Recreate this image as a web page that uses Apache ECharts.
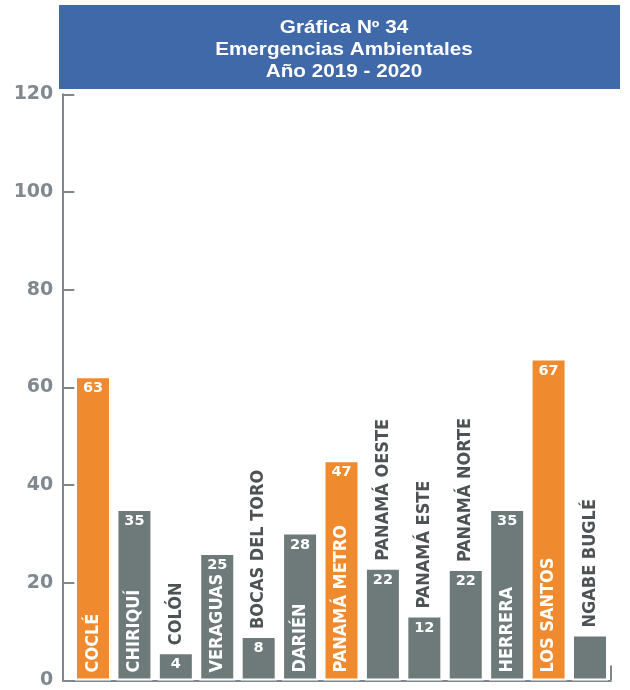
<!DOCTYPE html>
<html>
<head>
<meta charset="utf-8">
<script src="https://cdn.jsdelivr.net/npm/echarts@6/dist/echarts.min.js"></script>
<style>
  html, body { margin: 0; padding: 0; background: #ffffff; }
  #chart { width: 630px; height: 690px; }
</style>
</head>
<body>
<div id="chart"></div>
<script>
// ---- data ----
var categories = ['COCLÉ', 'CHIRIQUÍ', 'COLÓN', 'VERAGUAS', 'BOCAS DEL TORO', 'DARIÉN',
  'PANAMÁ METRO', 'PANAMÁ OESTE', 'PANAMÁ ESTE', 'PANAMÁ NORTE', 'HERRERA', 'LOS SANTOS', 'NGABE BUGLÉ'];
// bar heights as drawn in the picture
var barHeights = [62.3, 35.1, 5.8, 26.1, 9.1, 30.3, 45.1, 23.1, 13.3, 22.8, 35.1, 65.9, 9.4];
// numbers printed on the bars
var printedValues = [63, 35, 4, 25, 8, 28, 47, 22, 12, 22, 35, 67, null];
var highlighted = ['COCLÉ', 'PANAMÁ METRO', 'LOS SANTOS'];
var yTicks = [0, 20, 40, 60, 80, 100, 120];
var titleLines = ['Gráfica Nº 34', 'Emergencias Ambientales', 'Año 2019 - 2020'];

// ---- style ----
var ORANGE = '#f08a2e';
var GRAY = '#6d7a79';
var AXIS = '#7d878d';
var NAME_INSIDE_MIN = 25;

var chart = echarts.init(document.getElementById('chart'), null, { renderer: 'canvas' });

var mainData = barHeights.map(function (v, i) {
  return {
    value: v,
    itemStyle: { color: highlighted.indexOf(categories[i]) >= 0 ? ORANGE : GRAY },
    label: { show: printedValues[i] != null }
  };
});

var nameData = barHeights.map(function (v, i) {
  var inside = v >= NAME_INSIDE_MIN;
  return {
    value: v,
    label: inside ? {
      position: 'insideBottom', distance: 8, color: '#ffffff'
    } : {
      position: 'top', distance: 7, color: '#4d5255'
    }
  };
});

var option = {
  animation: false,
  backgroundColor: '#ffffff',
  graphic: [
    { type: 'rect', shape: { x: 59, y: 5, width: 561, height: 84 }, style: { fill: '#3f69a8' }, z: 10 },
    {
      type: 'text', x: 344, y: 50, scaleX: 1.15, z: 11,
      style: {
        text: titleLines.join('\n'), fill: '#ffffff', align: 'center', verticalAlign: 'middle',
        font: 'bold 18px "Liberation Sans", Arial, sans-serif', lineHeight: 22
      }
    }
  ],
  grid: { left: 72.3, right: 19.3, top: 94.3, bottom: 8.3, containLabel: false },
  xAxis: [{
    type: 'category',
    data: categories,
    axisLine: { show: true, onZero: false, lineStyle: { color: AXIS, width: 2 } },
    axisTick: { show: false },
    axisLabel: { show: false },
    splitLine: { show: false }
  }, {
    type: 'value', position: 'bottom', min: 0, max: 1,
    axisLine: { show: false, onZero: false },
    axisTick: { show: true, inside: true, length: 15, customValues: [1], lineStyle: { color: AXIS, width: 2 } },
    axisLabel: { show: false },
    splitLine: { show: false }
  }],
  yAxis: {
    type: 'value', min: yTicks[0], max: yTicks[yTicks.length - 1], interval: yTicks[1] - yTicks[0],
    offset: 10,
    axisLine: { show: true, onZero: false, lineStyle: { color: AXIS, width: 2 } },
    axisTick: { show: true, inside: true, length: 12, lineStyle: { color: AXIS, width: 2 } },
    axisLabel: { margin: 9, color: '#7f898f', fontFamily: '"DejaVu Sans", Verdana, sans-serif', fontWeight: 'bold', fontSize: 19 },
    splitLine: { show: false }
  },
  series: [{
    type: 'bar',
    data: mainData,
    barWidth: 36,
    itemStyle: { borderColor: '#ffffff', borderWidth: 2 },
    label: {
      show: true, position: 'insideTop', distance: 5,
      formatter: function (p) { var v = printedValues[p.dataIndex]; return v == null ? '' : String(v); },
      color: '#ffffff', fontFamily: '"DejaVu Sans", Verdana, sans-serif', fontWeight: 'bold', fontSize: 14.5
    },
    z: 2
  }, {
    type: 'bar',
    data: nameData,
    barWidth: 36,
    barGap: '-100%',
    silent: true,
    itemStyle: { color: 'rgba(0,0,0,0)' },
    label: {
      show: true, rotate: 90, align: 'left', verticalAlign: 'middle',
      formatter: '{b}',
      fontFamily: '"DejaVu Sans Condensed", "Liberation Sans", sans-serif', fontWeight: 'bold', fontSize: 18
    },
    z: 3
  }]
};

chart.setOption(option);
</script>
</body>
</html>
